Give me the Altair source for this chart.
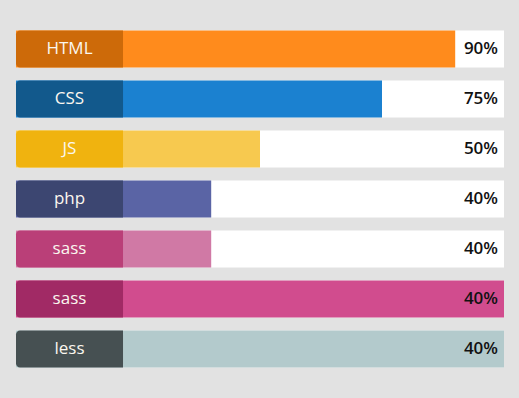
import altair as alt
import pandas as pd

labels = ["HTML", "CSS", "JS", "php", "sass", "sass", "less"]
shown_pct = [90, 75, 50, 40, 40, 40, 40]
fill_pct = [90, 75, 50, 40, 40, 100, 100]
label_colors = ["#cd6a09", "#12598c", "#f0b30f", "#3c4671", "#ba3f78", "#a12a65", "#465052"]
fill_colors = ["#ff8b1c", "#1b81d0", "#f7c94f", "#5a64a5", "#d079a5", "#d14c8e", "#b3cacc"]

df = pd.DataFrame({
    "row": list(range(len(labels))),
    "label": labels,
    "pct_text": [f"{v}%" for v in shown_pct],
    "fill": fill_pct,
    "track": [100] * len(labels),
    "zero": [0] * len(labels),
    "box_end": [21.93] * len(labels),
    "label_pos": [10.96] * len(labels),
    "lc": label_colors,
    "fc": fill_colors,
})

x_scale = alt.Scale(domain=[0, 100], nice=False, zero=False)
y_enc = alt.Y("row:O", axis=None,
              scale=alt.Scale(paddingInner=0.26, paddingOuter=0.13))

base = alt.Chart(df)

track = base.mark_bar(color="white").encode(
    x=alt.X("zero:Q", scale=x_scale, axis=None), x2="track:Q", y=y_enc)
fill = base.mark_bar().encode(
    x=alt.X("zero:Q", scale=x_scale, axis=None), x2="fill:Q", y=y_enc,
    color=alt.Color("fc:N", scale=None))
box = base.mark_bar(cornerRadiusTopLeft=4, cornerRadiusBottomLeft=4).encode(
    x=alt.X("zero:Q", scale=x_scale, axis=None), x2="box_end:Q", y=y_enc,
    color=alt.Color("lc:N", scale=None))
lab = base.mark_text(font="Open Sans", fontSize=17, color="#fbf7ef", align="center", baseline="middle").encode(
    x=alt.X("label_pos:Q", scale=x_scale, axis=None), y=y_enc, text="label:N")
pct = base.mark_text(font="Open Sans", fontSize=17, fontWeight=600, color="#111111",
                     align="right", baseline="middle", dx=-6).encode(
    x=alt.X("track:Q", scale=x_scale, axis=None), y=y_enc, text="pct_text:N")

chart = alt.layer(track, fill, box, lab, pct).properties(
    width=488, height=350,
    padding={"left": 16, "right": 15, "top": 24, "bottom": 24},
    background="#e2e2e2",
).configure_view(stroke=None)

chart.save("out.html", embed_options={"renderer": "svg", "actions": False})
